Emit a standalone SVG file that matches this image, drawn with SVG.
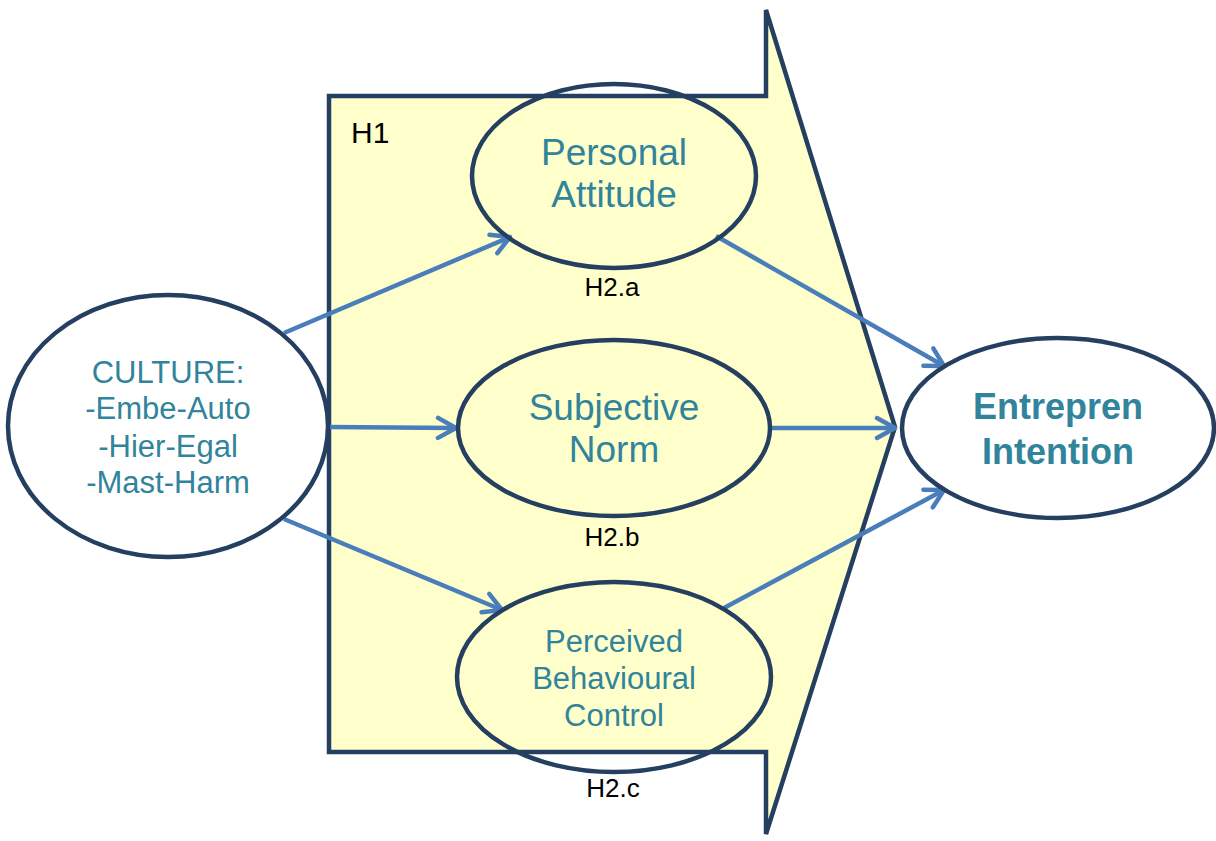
<svg xmlns="http://www.w3.org/2000/svg" width="1216" height="841" viewBox="0 0 1216 841">
<style>
.node{stroke:#243F60;stroke-width:4.5;}
.lbl{font-family:"Liberation Sans",Arial,sans-serif;fill:#31849B;text-anchor:middle;}
.hyp{font-family:"Liberation Sans",Arial,sans-serif;fill:#000;font-size:26px;text-anchor:middle;}
.conn{stroke:#4A7EBB;stroke-width:4.5;fill:none;marker-end:url(#arr);}
</style>
<defs>
<marker id="arr" markerUnits="userSpaceOnUse" markerWidth="26" markerHeight="26" viewBox="0 0 26 26" refX="22" refY="13" orient="auto">
<path d="M4,3 L22,13 L4,23" fill="none" stroke="#4A7EBB" stroke-width="4.5" stroke-linecap="round" stroke-linejoin="round"/>
</marker>
</defs>
<rect width="1216" height="841" fill="#fff"/>
<g id="big-arrow">
<path d="M329,96 L766,96 L766,10 L895,427 L766,834 L766,752 L329,752 Z" fill="#FFFFCC" stroke="#243F60" stroke-width="4.5" stroke-linejoin="miter"/>
<text x="351" y="143" font-family="Liberation Sans,Arial,sans-serif" font-size="30" fill="#000">H1</text>
</g>
<g id="connectors">
<line class="conn" x1="284" y1="333" x2="510" y2="237"/>
<line class="conn" x1="329" y1="427" x2="456" y2="428"/>
<line class="conn" x1="284" y1="519" x2="502" y2="610"/>
<line class="conn" x1="716" y1="236" x2="944" y2="366"/>
<line class="conn" x1="771" y1="428" x2="895" y2="428"/>
<line class="conn" x1="724" y1="608" x2="944" y2="490"/>
</g>
<g id="culture">
<ellipse class="node" cx="168" cy="426" rx="160" ry="131" fill="#fff"/>
<text class="lbl" font-size="31"><tspan x="168" y="383">CULTURE:</tspan><tspan x="168" y="419">-Embe-Auto</tspan><tspan x="168" y="457">-Hier-Egal</tspan><tspan x="168" y="493">-Mast-Harm</tspan></text>
</g>
<g id="personal-attitude">
<ellipse class="node" cx="614" cy="176" rx="142" ry="92" fill="none"/>
<text class="lbl" font-size="37"><tspan x="614" y="165">Personal</tspan><tspan x="614" y="207">Attitude</tspan></text>
<text class="hyp" x="612" y="296">H2.a</text>
</g>
<g id="subjective-norm">
<ellipse class="node" cx="614" cy="428" rx="156" ry="88" fill="none"/>
<text class="lbl" font-size="37"><tspan x="614" y="420">Subjective</tspan><tspan x="614" y="462">Norm</tspan></text>
<text class="hyp" x="612" y="546">H2.b</text>
</g>
<g id="pbc">
<ellipse class="node" cx="614" cy="677" rx="157" ry="95" fill="none"/>
<text class="lbl" font-size="31"><tspan x="614" y="652">Perceived</tspan><tspan x="614" y="689">Behavioural</tspan><tspan x="614" y="726">Control</tspan></text>
<text class="hyp" x="613" y="797">H2.c</text>
</g>
<g id="entrepren-intention">
<ellipse class="node" cx="1058" cy="428" rx="156" ry="90" fill="#fff"/>
<text class="lbl" font-size="36" font-weight="bold"><tspan x="1058" y="419">Entrepren</tspan><tspan x="1058" y="464">Intention</tspan></text>
</g>
</svg>
